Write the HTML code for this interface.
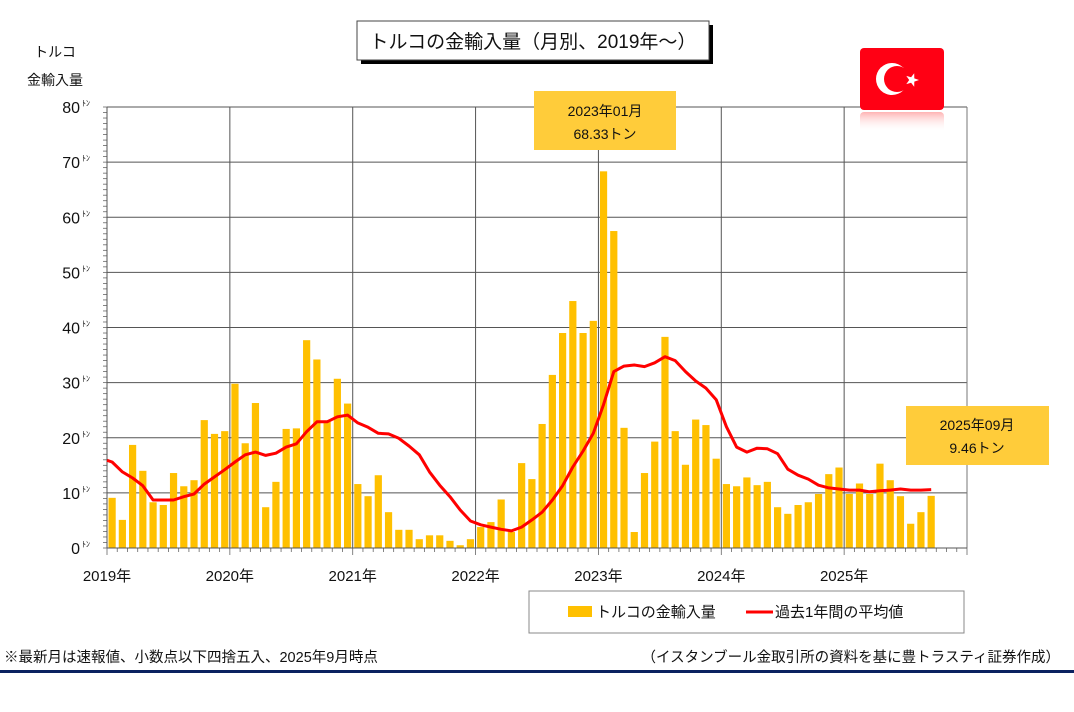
<!DOCTYPE html>
<html><head><meta charset="utf-8">
<style>
html,body{margin:0;padding:0;background:#fff;}
body{width:1074px;height:707px;overflow:hidden;position:relative;font-family:"Liberation Sans","Noto Sans CJK JP",sans-serif;}
svg text{font-family:"Liberation Sans","Noto Sans CJK JP",sans-serif;}
</style></head>
<body>
<svg id="s" width="1074" height="707" xmlns="http://www.w3.org/2000/svg"></svg>
<script>
const bars=[9.1,5.1,18.7,14,8.3,7.8,13.6,11.2,12.3,23.2,20.7,21.2,
29.8,19,26.3,7.4,12,21.6,21.7,37.7,34.2,22.9,30.7,26.2,
11.6,9.4,13.2,6.5,3.3,3.3,1.6,2.3,2.3,1.3,0.5,1.6,
3.8,4.7,8.8,2.9,15.4,12.5,22.5,31.4,39,44.8,39,41.2,
68.33,57.5,21.8,2.9,13.6,19.3,38.3,21.2,15.1,23.3,22.3,16.2,
11.6,11.2,12.8,11.4,12,7.4,6.2,7.8,8.3,9.8,13.4,14.6,
9.8,11.7,9.8,15.3,12.3,9.4,4.4,6.5,9.46];
const line=[15.6,13.8,12.7,11.3,8.7,8.7,8.7,9.3,9.8,11.6,12.9,14.2,
15.6,16.9,17.4,16.8,17.2,18.3,18.9,21.1,22.9,22.9,23.8,24.1,
22.7,21.9,20.8,20.7,19.9,18.5,16.9,13.8,11.4,9.3,6.9,4.9,
4.2,3.8,3.4,3.1,3.8,5.1,6.5,8.7,11.3,14.7,17.6,20.8,
26,32,33,33.2,32.9,33.6,34.7,34,32,30.3,29,26.9,
22,18.3,17.4,18.1,18,17.1,14.3,13.2,12.5,11.4,10.9,10.7,
10.5,10.5,10.2,10.4,10.5,10.7,10.5,10.5,10.6];
const X0=107,X1=967,Y0=548,Y1=107,dx=(X1-X0)/84,sy=(Y0-Y1)/80;
const y=v=>Y0-v*sy, cx=i=>X0+dx*(i+0.5);
let h='';
// gridlines
for(let k=1;k<=8;k++){h+=`<line x1="${X0}" x2="${X1}" y1="${y(k*10)}" y2="${y(k*10)}" stroke="#555" stroke-width="1"/>`;}
for(let k=1;k<=7;k++){const x=X0+dx*12*k;h+=`<line x1="${x}" x2="${x}" y1="${Y1}" y2="${Y0}" stroke="#555" stroke-width="1"/>`;}
h+=`<line x1="${X1}" x2="${X1}" y1="${Y1}" y2="${Y0}" stroke="#777"/>`;
// minor y ticks
for(let k=0;k<=80;k++){h+=`<line x1="${X0-4}" x2="${X0}" y1="${y(k)}" y2="${y(k)}" stroke="#666" stroke-width="0.8"/>`;}
for(let k=0;k<=84;k++){const x=X0+dx*k;h+=`<line x1="${x}" x2="${x}" y1="${Y0}" y2="${Y0+(k%12==0?7:4)}" stroke="#666" stroke-width="0.8"/>`;}
// bars
bars.forEach((v,i)=>{h+=`<rect x="${cx(i)-3.6}" y="${y(v)}" width="7.2" height="${v*sy}" fill="#ffc000"/>`;});
// axes
h+=`<line x1="${X0}" x2="${X0}" y1="${Y1}" y2="${Y0}" stroke="#555"/><line x1="${X0}" x2="${X1}" y1="${Y0}" y2="${Y0}" stroke="#555"/>`;
// line
h+=`<polyline fill="none" stroke="#ff0000" stroke-width="3" stroke-linejoin="round" points="${X0},${y(15.9)} `+line.map((v,i)=>cx(i).toFixed(1)+','+y(v).toFixed(1)).join(' ')+`"/>`;
// y labels
for(let k=0;k<=8;k++){const yy=y(k*10);h+=`<text x="${k==0?80:80}" y="${yy+6}" font-size="16" text-anchor="end" fill="#111">${k*10}</text><text x="82" y="${yy-1}" font-size="8" fill="#111">ﾄﾝ</text>`;}
// x labels
for(let k=0;k<7;k++){h+=`<text x="${X0+dx*12*k}" y="581" font-size="15" text-anchor="middle" fill="#111">${2019+k}年</text>`;}
// y title
h+=`<text x="55" y="57" font-size="14" text-anchor="middle" fill="#111">トルコ</text><text x="55" y="85" font-size="14" text-anchor="middle" fill="#111">金輸入量</text>`;
// title box
h+=`<rect x="361" y="25" width="352" height="39" fill="#000"/><rect x="357" y="21" width="352" height="39" fill="#fff" stroke="#444"/><text x="533" y="48" font-size="19" text-anchor="middle" fill="#111">トルコの金輸入量（月別、2019年～）</text>`;
// flag
h+=`<defs><linearGradient id="rf" x1="0" y1="0" x2="0" y2="1"><stop offset="0" stop-color="#ff8080" stop-opacity="0.6"/><stop offset="1" stop-color="#fff" stop-opacity="0"/></linearGradient></defs>`;
h+=`<rect x="860" y="112" width="84" height="20" rx="4" fill="url(#rf)"/>`;
h+=`<rect x="860" y="48" width="84" height="62" rx="4" fill="#ff0014"/><circle cx="892" cy="79" r="16" fill="#fff"/><circle cx="897" cy="79" r="13" fill="#ff0014"/>`;
h+=`<polygon points="${star(912,80,7)}" fill="#fff"/>`;
// callouts
h+=`<rect x="534" y="91" width="142" height="59" fill="#ffcc3a"/><text x="605" y="116" font-size="14" text-anchor="middle" fill="#111">2023年01月</text><text x="605" y="139" font-size="14" text-anchor="middle" fill="#111">68.33トン</text>`;
h+=`<rect x="906" y="406" width="143" height="59" fill="#ffcc3a"/><text x="977" y="430" font-size="14" text-anchor="middle" fill="#111">2025年09月</text><text x="977" y="453" font-size="14" text-anchor="middle" fill="#111">9.46トン</text>`;
// legend
h+=`<rect x="529" y="591" width="435" height="42" fill="#fff" stroke="#888"/><rect x="568" y="606" width="24" height="11" fill="#ffc000"/><text x="596" y="617" font-size="15" fill="#111">トルコの金輸入量</text><line x1="746" x2="773" y1="612" y2="612" stroke="#f00" stroke-width="3"/><text x="775" y="617" font-size="15" fill="#111">過去1年間の平均値</text>`;
// footer
h+=`<text x="4" y="662" font-size="14.5" fill="#111">※最新月は速報値、小数点以下四捨五入、2025年9月時点</text><text x="1060" y="662" font-size="14.5" text-anchor="end" fill="#111">（イスタンブール金取引所の資料を基に豊トラスティ証券作成）</text>`;
h+=`<rect x="0" y="670" width="1074" height="3" fill="#0a2260"/>`;
function star(cx,cy,r){let p=[];for(let i=0;i<10;i++){const a=Math.PI*i/5;const rr=i%2?r*0.4:r;p.push((cx+rr*Math.cos(a)).toFixed(1)+','+(cy+rr*Math.sin(a)).toFixed(1));}return p.join(' ');}
document.getElementById('s').innerHTML=h;
</script>
</body></html>
